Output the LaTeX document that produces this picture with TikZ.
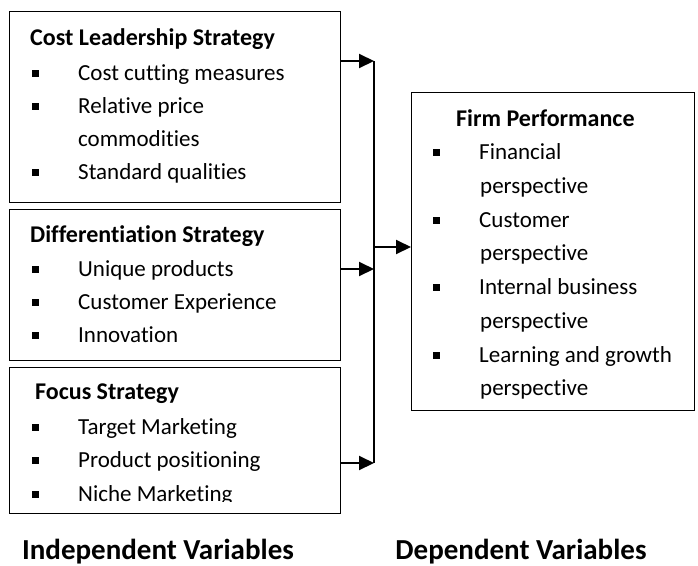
\documentclass[tikz,border=0pt]{standalone}
\usepackage{fontspec}
\setmainfont[Ligatures=NoCommon]{Carlito}
\usetikzlibrary{arrows.meta,calc,positioning}
\newcommand{\blt}{\makebox[46pt][l]{\rule[3.5pt]{7pt}{7pt}}}
\tikzset{
    box/.style={draw, line width=1.4pt, anchor=north west, inner sep=0pt},
    hd/.style={anchor=base west, inner sep=0pt, font=\fontsize{24}{28}\selectfont\bfseries},
    it/.style={anchor=base west, inner sep=0pt, font=\fontsize{23}{28}\selectfont},
    lab/.style={anchor=base, inner sep=0pt, font=\fontsize{29}{34}\selectfont\bfseries},
    arr/.style={line width=2pt, -{Triangle[length=15pt,width=14pt]}},
}
\begin{document}
\begin{tikzpicture}[x=1pt, y=-1pt]
\useasboundingbox (0,0) rectangle (698,565);

    % Boxes
    \node[box, minimum width=331pt, minimum height=191pt] (cost) at (9,11) {};
    \node[box, minimum width=331pt, minimum height=151pt] (diff) at (9,209) {};
    \node[box, minimum width=331pt, minimum height=146pt] (focus) at (9,367) {};
    \node[box, minimum width=283pt, minimum height=318pt] (firm) at (411,92) {};

    % Cost leadership
    \node[hd] (cost-t) at (30,45) {Cost Leadership Strategy};
    \node[it] (cost-a) at (32,80) {\blt Cost cutting measures};
    \node[it] (cost-b) at (32,113) {\blt Relative price};
    \node[it] (cost-b2) at (78,146) {commodities};
    \node[it] (cost-c) at (32,179) {\blt Standard qualities};

    % Differentiation
    \node[hd] (diff-t) at (30,242) {Differentiation Strategy};
    \node[it] (diff-a) at (32,276) {\blt Unique products};
    \node[it] (diff-b) at (32,309) {\blt Customer Experience};
    \node[it] (diff-c) at (32,342) {\blt Innovation};

    % Focus (last line is cut by the box)
    \begin{scope}
    \clip (focus.north west) rectangle ([yshift=13pt]focus.south east);
    \node[hd] (focus-t) at (35,399) {Focus Strategy};
    \node[it] (focus-a) at (32,434) {\blt Target Marketing};
    \node[it] (focus-b) at (32,467) {\blt Product positioning};
    \node[it] (focus-c) at (32,501) {\blt Niche Marketing};
    \end{scope}

    % Firm performance
    \node[hd] (firm-t) at (456,126) {Firm Performance};
    \node[it] (firm-a) at (433,159) {\blt Financial};
    \node[it] (firm-a2) at (480,193) {perspective};
    \node[it] (firm-b) at (433,227) {\blt Customer};
    \node[it] (firm-b2) at (480,260) {perspective};
    \node[it] (firm-c) at (433,294) {\blt Internal business};
    \node[it] (firm-c2) at (480,328) {perspective};
    \node[it] (firm-d) at (433,362) {\blt Learning and growth};
    \node[it] (firm-d2) at (480,395) {perspective};

    % Captions
    \node[lab] (indep) at (158,559) {Independent Variables};
    \node[lab] (dep) at (521,559) {Dependent Variables};

    % Arrows
    \coordinate (j1) at (374,61);
    \coordinate (j2) at (374,269);
    \coordinate (j3) at (374,463);
    \coordinate (jm) at (374,247);
    \draw[arr] (cost.east |- j1) -- (j1);
    \draw[arr] (diff.east |- j2) -- (j2);
    \draw[arr] (focus.east |- j3) -- (j3);
    \draw[line width=2.2pt] (j1) -- (j3);
    \draw[arr] (jm) -- (firm.west |- jm);

\end{tikzpicture}
\end{document}
